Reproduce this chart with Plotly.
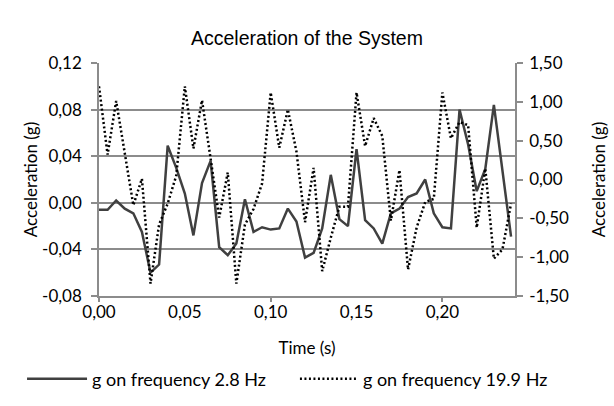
import plotly.graph_objects as go

time_s = [0.000, 0.005, 0.010, 0.015, 0.020, 0.025, 0.030, 0.035, 0.040, 0.045,
          0.050, 0.055, 0.060, 0.065, 0.070, 0.075, 0.080, 0.085, 0.090, 0.095,
          0.100, 0.105, 0.110, 0.115, 0.120, 0.125, 0.130, 0.135, 0.140, 0.145,
          0.150, 0.155, 0.160, 0.165, 0.170, 0.175, 0.180, 0.185, 0.190, 0.195,
          0.200, 0.205, 0.210, 0.215, 0.220, 0.225, 0.230, 0.235, 0.240]

g_2_8hz = [-0.006, -0.006, 0.002, -0.005, -0.009, -0.025, -0.060, -0.053, 0.049, 0.030,
           0.008, -0.028, 0.017, 0.036, -0.038, -0.045, -0.035, 0.003, -0.025, -0.021,
           -0.023, -0.022, -0.005, -0.016, -0.047, -0.043, -0.022, 0.024, -0.014, -0.020,
           0.046, -0.015, -0.022, -0.035, -0.009, -0.005, 0.005, 0.008, 0.020, -0.009,
           -0.021, -0.022, 0.080, 0.050, 0.010, 0.029, 0.084, 0.027, -0.029]

g_19_9hz = [1.20, 0.32, 1.01, 0.34, -0.33, 0.01, -1.34, -0.58, -0.31, 0.05,
            1.20, 0.40, 1.02, 0.27, -0.49, 0.09, -1.34, -0.58, -0.38, -0.05,
            1.12, 0.41, 0.90, 0.36, -0.55, 0.15, -1.18, -0.75, -0.35, -0.35,
            1.12, 0.43, 0.79, 0.56, -0.53, 0.12, -1.16, -0.62, -0.29, -0.25,
            1.12, 0.53, 0.74, 0.70, -0.62, 0.14, -1.02, -0.90, -0.31]

x_ticks = [0.00, 0.05, 0.10, 0.15, 0.20]
left_ticks = [-0.08, -0.04, 0.00, 0.04, 0.08, 0.12]
right_ticks = [-1.50, -1.00, -0.50, 0.00, 0.50, 1.00, 1.50]


def lbl(v):
    return f"{v:.2f}".replace(".", ",")


AX = "#8c8c8c"
FONT = "Lato"
FS = 17

fig = go.Figure()
fig.add_trace(go.Scatter(x=time_s, y=g_2_8hz, mode="lines", name="g on frequency 2.8 Hz",
                         line=dict(color="#404040", width=2.5), yaxis="y", legend="legend"))
fig.add_trace(go.Scatter(x=time_s, y=g_19_9hz, mode="lines", name="g on frequency 19.9 Hz",
                         line=dict(color="#000000", width=2.5, dash="2px,2.5px"),
                         yaxis="y2", legend="legend2"))
# invisible trace so the secondary x axis (tick marks every 0.1) is drawn
fig.add_trace(go.Scatter(x=[0], y=[0], xaxis="x2", mode="markers",
                         marker=dict(opacity=0), showlegend=False, hoverinfo="skip"))

fig.update_layout(
    width=614, height=406,
    margin=dict(l=99, r=99, t=63, b=110, autoexpand=False),
    paper_bgcolor="white", plot_bgcolor="white",
    font=dict(family=FONT, size=FS, color="#000000"),
    title=dict(text="Acceleration of the System", x=0.5, xanchor="center",
               y=1 - 38 / 406, yanchor="middle",
               font=dict(family="Liberation Sans", size=19.5, color="#000000")),
    xaxis=dict(range=[0, 0.2423], tickvals=x_ticks, ticktext=[lbl(v) for v in x_ticks],
               showgrid=False, showline=True, linecolor=AX, linewidth=1.5,
               ticks="", zeroline=False, automargin=False,
               title=dict(text="Time (s)", standoff=21, font=dict(size=FS))),
    xaxis2=dict(range=[0, 0.2423], overlaying="x", side="bottom", anchor="y",
                dtick=0.1, tick0=0, showticklabels=False, showgrid=False,
                ticks="outside", ticklen=5, tickcolor=AX, tickwidth=1.5,
                showline=False, zeroline=False),
    yaxis=dict(range=[-0.08, 0.12], tickvals=left_ticks, ticktext=[lbl(v) for v in left_ticks],
               showgrid=True, gridcolor=AX, gridwidth=1.5,
               showline=True, linecolor=AX, linewidth=1.5,
               ticks="outside", ticklen=6, tickcolor=AX, tickwidth=1.5,
               ticklabelstandoff=6,
               zeroline=False, automargin=False,
               title=dict(text="Acceleration (g)", standoff=0, font=dict(size=FS))),
    yaxis2=dict(range=[-1.5, 1.5], tickvals=right_ticks, ticktext=[lbl(v) for v in right_ticks],
                overlaying="y", side="right", showgrid=False,
                showline=True, linecolor=AX, linewidth=1.5,
                ticks="outside", ticklen=6, tickcolor=AX, tickwidth=1.5,
                ticklabelstandoff=3,
                zeroline=False, automargin=False,
                title=dict(text="Acceleration (g)", standoff=25, font=dict(size=FS))),
    legend=dict(orientation="h", x=-0.185, xanchor="left", y=-0.356, yanchor="middle",
                font=dict(size=18), itemwidth=60, bgcolor="rgba(0,0,0,0)"),
    legend2=dict(orientation="h", x=0.471, xanchor="left", y=-0.356, yanchor="middle",
                 font=dict(size=18), itemwidth=58, bgcolor="rgba(0,0,0,0)"),
)

fig.write_html("out.html", config={"displayModeBar": False},
               post_script="document.body.style.margin='0px';")
